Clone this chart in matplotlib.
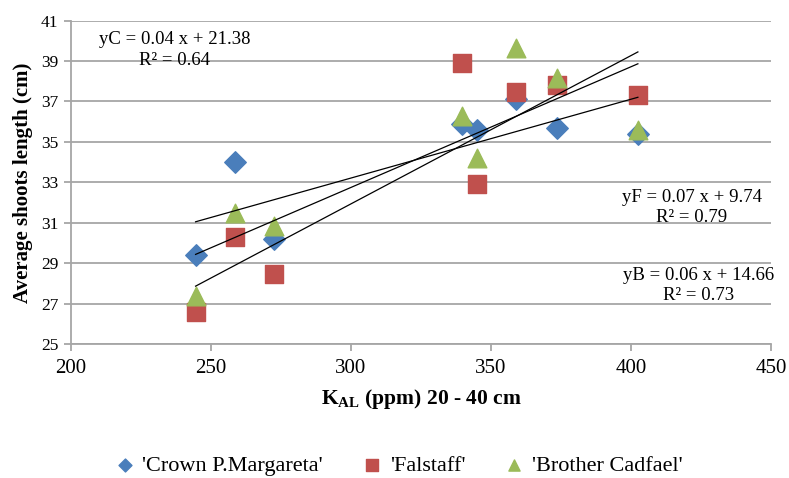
import numpy as np
import matplotlib.pyplot as plt

plt.rcParams['font.family'] = ['Liberation Serif', 'DejaVu Serif']
plt.rcParams['mathtext.fontset'] = 'custom'
plt.rcParams['mathtext.rm'] = 'Liberation Serif'
plt.rcParams['mathtext.bf'] = 'Liberation Serif:bold'

# K_AL (ppm) values, same for all three cultivars
k_al = [244.5, 258.5, 272.5, 339.5, 345, 359, 373.5, 402.5]

crown = [29.4, 34.0, 30.2, 35.9, 35.6, 37.1, 35.7, 35.4]
falstaff = [26.6, 30.3, 28.45, 38.9, 32.9, 37.46, 37.83, 37.34]
brother = [27.4, 31.5, 30.85, 36.27, 34.2, 39.64, 38.16, 35.6]

names = ["'Crown P.Margareta'", "'Falstaff'", "'Brother Cadfael'"]
eq_text = ["yC = 0.04 x + 21.38\nR² = 0.64",
           "yF = 0.07 x + 9.74\nR² = 0.79",
           "yB = 0.06 x + 14.66\nR² = 0.73"]

fig = plt.figure(figsize=(7.89, 4.78), dpi=100)
ax = fig.add_axes([0.090, 0.280, 0.887, 0.677])

ax.scatter(k_al, crown, marker='D', s=120, color='#4A7EBB', label=names[0], zorder=3)
ax.scatter(k_al, falstaff, marker='s', s=180, color='#C0504D', label=names[1], zorder=4)
ax.scatter(k_al, brother, marker='^', s=180, color='#9BBB59', label=names[2], zorder=5)

# linear trendlines
xx = np.array([min(k_al), max(k_al)])
for ys in (crown, falstaff, brother):
    p = np.polyfit(k_al, ys, 1)
    ax.plot(xx, np.polyval(p, xx), color='black', lw=0.9, zorder=6)

ax.text(237, 39.55, eq_text[0], ha='center', va='center', fontsize=13.5, linespacing=1.25)
ax.text(421.8, 31.74, eq_text[1], ha='center', va='center', fontsize=13.5, linespacing=1.25)
ax.text(424.3, 27.9, eq_text[2], ha='center', va='center', fontsize=13.5, linespacing=1.25)

ax.set_xlim(200, 450)
ax.set_ylim(25, 41)
ax.set_xticks(np.arange(200, 451, 50))
ax.set_yticks(np.arange(25, 42, 2))
ax.yaxis.grid(True, color='#a6a6a6', lw=1.3)
ax.set_axisbelow(True)
for s in ('top', 'right'):
    ax.spines[s].set_visible(False)
for s in ('left', 'bottom'):
    ax.spines[s].set_color('#a6a6a6')
    ax.spines[s].set_linewidth(1.3)
ax.tick_params(axis='both', color='#a6a6a6', length=5, width=1.3)
ax.tick_params(axis='y', labelsize=12.5, pad=4)
ax.tick_params(axis='x', labelsize=15, pad=6)

ax.set_xlabel('K$_{\\mathbf{AL}}$ (ppm) 20 - 40 cm', fontsize=15.5, fontweight='bold', labelpad=6)
ax.set_ylabel('Average shoots length (cm)', fontsize=15, fontweight='bold', labelpad=6)

fig.legend(loc='center', bbox_to_anchor=(0.503, 0.025), ncol=3, frameon=False,
           fontsize=16, markerscale=0.6, handletextpad=0.2, columnspacing=1.6,
           handlelength=1.2)

fig.savefig('out.png', dpi=100)
